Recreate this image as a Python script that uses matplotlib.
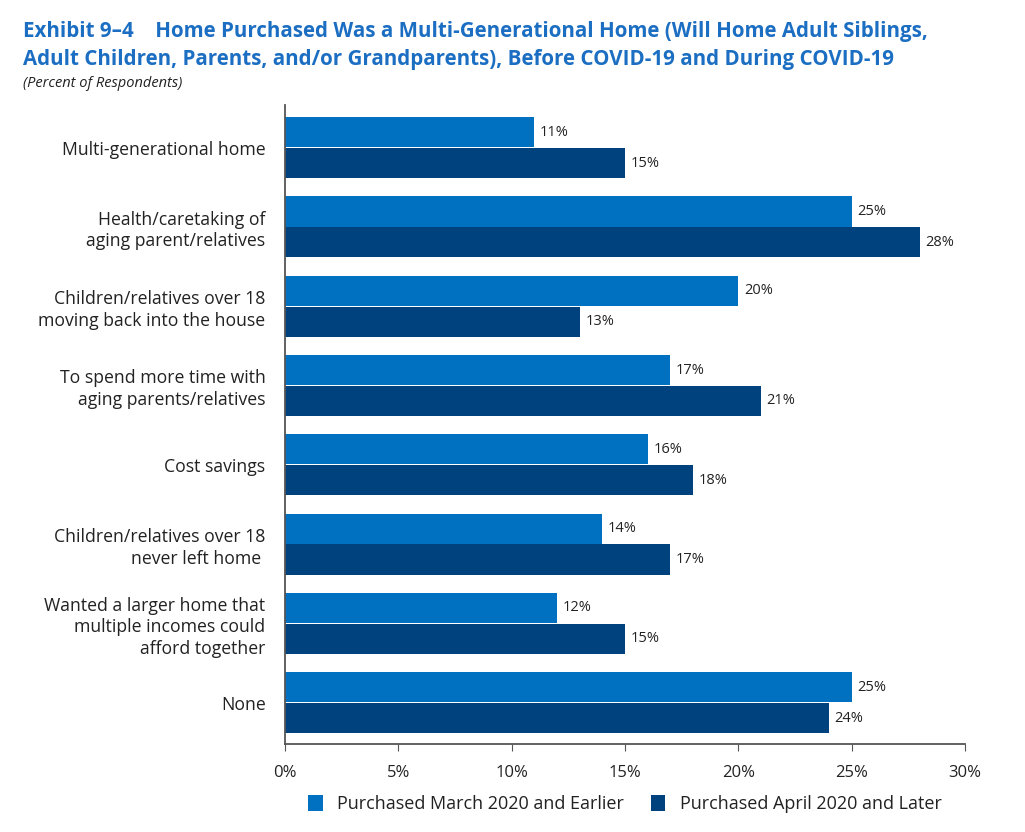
import numpy as np
import matplotlib.pyplot as plt

categories = [
    "Multi-generational home",
    "Health/caretaking of\naging parent/relatives",
    "Children/relatives over 18\nmoving back into the house",
    "To spend more time with\naging parents/relatives",
    "Cost savings",
    "Children/relatives over 18\nnever left home ",
    "Wanted a larger home that\nmultiple incomes could\nafford together",
    "None",
]
before = [11, 25, 20, 17, 16, 14, 12, 25]
after = [15, 28, 13, 21, 18, 17, 15, 24]
series_names = ["Purchased March 2020 and Earlier", "Purchased April 2020 and Later"]
xticks = [0, 5, 10, 15, 20, 25, 30]

c_light = "#0071C1"
c_dark = "#00427E"
c_title = "#1B6EC2"
c_text = "#222222"

plt.rcParams['font.family'] = ['Open Sans', 'DejaVu Sans']

fig = plt.figure(figsize=(10.25, 8.32), dpi=100)
ax = fig.add_axes([0.278, 0.106, 0.6635, 0.768])

y = np.arange(len(categories))
h = 0.38
b1 = ax.barh(y - h / 2 - 0.005, before, height=h, color=c_light, label=series_names[0])
b2 = ax.barh(y + h / 2 + 0.005, after, height=h, color=c_dark, label=series_names[1])

for bars, vals in [(b1, before), (b2, after)]:
    for bar, v in zip(bars, vals):
        ax.text(v + 0.25, bar.get_y() + bar.get_height() / 2, f"{v}%",
                va="center", ha="left", fontsize=10.5, color=c_text)

ax.set_ylim(7.52, -0.54)
ax.set_xlim(0, 30)
ax.set_yticks(y)
ax.set_yticklabels(categories, fontsize=12.7, color=c_text, ha="right", multialignment="right",
                   linespacing=1.25)
ax.tick_params(axis="y", length=0, pad=14)
ax.set_xticks(xticks)
ax.set_xticklabels([f"{t}%" for t in xticks], fontsize=12, color=c_text)
ax.tick_params(axis="x", length=5, color="#555555", pad=10)

for s in ["top", "right"]:
    ax.spines[s].set_visible(False)
ax.spines["left"].set_color("#555555")
ax.spines["bottom"].set_color("#555555")
ax.spines["left"].set_linewidth(1.3)
ax.spines["bottom"].set_linewidth(1.3)

fig.text(0.022, 0.962, "Exhibit 9–4    Home Purchased Was a Multi-Generational Home (Will Home Adult Siblings,",
         fontsize=14.8, fontweight="bold", color=c_title, va="center")
fig.text(0.022, 0.929, "Adult Children, Parents, and/or Grandparents), Before COVID-19 and During COVID-19",
         fontsize=14.8, fontweight="bold", color=c_title, va="center")
fig.text(0.022, 0.900, "(Percent of Respondents)", fontsize=10.5, style="italic", color=c_text, va="center")

ax.legend(loc="center", bbox_to_anchor=(0.5, -0.094), ncol=2, frameon=False,
          fontsize=13, handlelength=0.8, handleheight=1.0, handletextpad=0.8, columnspacing=1.5,
          labelcolor=c_text)

fig.savefig("out.png", dpi=100)
